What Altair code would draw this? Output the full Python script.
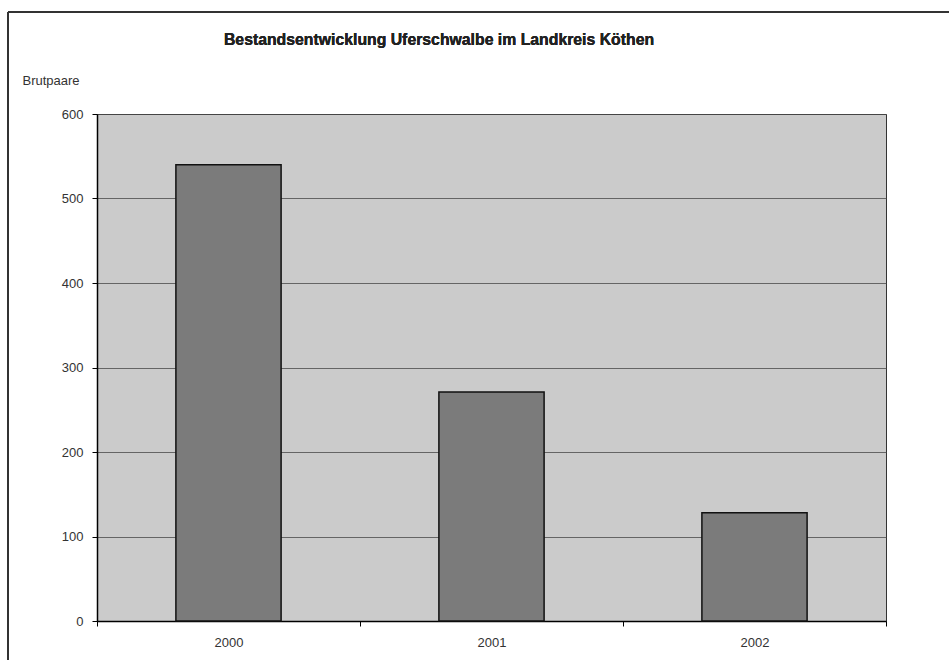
import altair as alt
import pandas as pd

years = ["2000", "2001", "2002"]
brutpaare = [540, 271, 128]
y_ticks = [0, 100, 200, 300, 400, 500, 600]
title_text = "Bestandsentwicklung Uferschwalbe im Landkreis Köthen"

df = pd.DataFrame({"Jahr": years, "Brutpaare": brutpaare})

FONT = "Liberation Sans"
L, T = 97, 114
W, H = 789, 507

base = alt.Chart(df)

bars = base.mark_bar(color="#7b7b7b", stroke="#111111", strokeWidth=1.5,
                     width={"band": 0.4}).encode(
    x=alt.X("Jahr:N", sort=years,
            scale=alt.Scale(paddingInner=0, paddingOuter=0),
            axis=alt.Axis(title=None, labelAngle=0, tickBand="extent", ticks=True,
                          tickSize=5, tickColor="#000000", domainColor="#000000",
                          domainWidth=1.5, labelFont=FONT, labelFontSize=13,
                          labelColor="#333333", labelPadding=10, grid=False)),
    y=alt.Y("Brutpaare:Q",
            scale=alt.Scale(domain=[0, 600], nice=False),
            axis=alt.Axis(values=y_ticks, title="Brutpaare", titleAngle=0,
                          titleX=-75, titleY=-34, titleAlign="left",
                          titleBaseline="middle", titleFont=FONT,
                          titleFontSize=13, titleFontWeight="normal",
                          titleColor="#333333",
                          tickSize=5, tickColor="#000000", domainColor="#000000",
                          domainWidth=1.5, labelFont=FONT, labelFontSize=13,
                          labelColor="#333333", labelPadding=9,
                          grid=True, gridColor="#4a4a4a", gridWidth=0.8)),
)

title = base.mark_text(font=FONT, fontSize=15.8, fontWeight="bold", color="#222222",
                       align="center", baseline="middle").encode(
    x=alt.value(439 - L), y=alt.value(40 - T), text=alt.value(title_text)
)

frame_top = base.mark_rule(color="#333333", strokeWidth=2).encode(
    x=alt.value(8 - L), x2=alt.value(949 - L), y=alt.value(12 - T)
)
frame_left = base.mark_rule(color="#333333", strokeWidth=2).encode(
    x=alt.value(8 - L), y=alt.value(12 - T), y2=alt.value(660 - T)
)

chart = alt.layer(bars, title, frame_top, frame_left).properties(
    width=W, height=H,
    autosize=alt.AutoSizeParams(type="none"),
    padding={"left": L, "top": T, "right": 949 - L - W, "bottom": 660 - T - H},
    background="#ffffff",
).configure_view(fill="#cbcbcb", stroke="#333333", strokeWidth=1)

chart.save("out.html", embed_options={"renderer": "svg", "actions": False})
